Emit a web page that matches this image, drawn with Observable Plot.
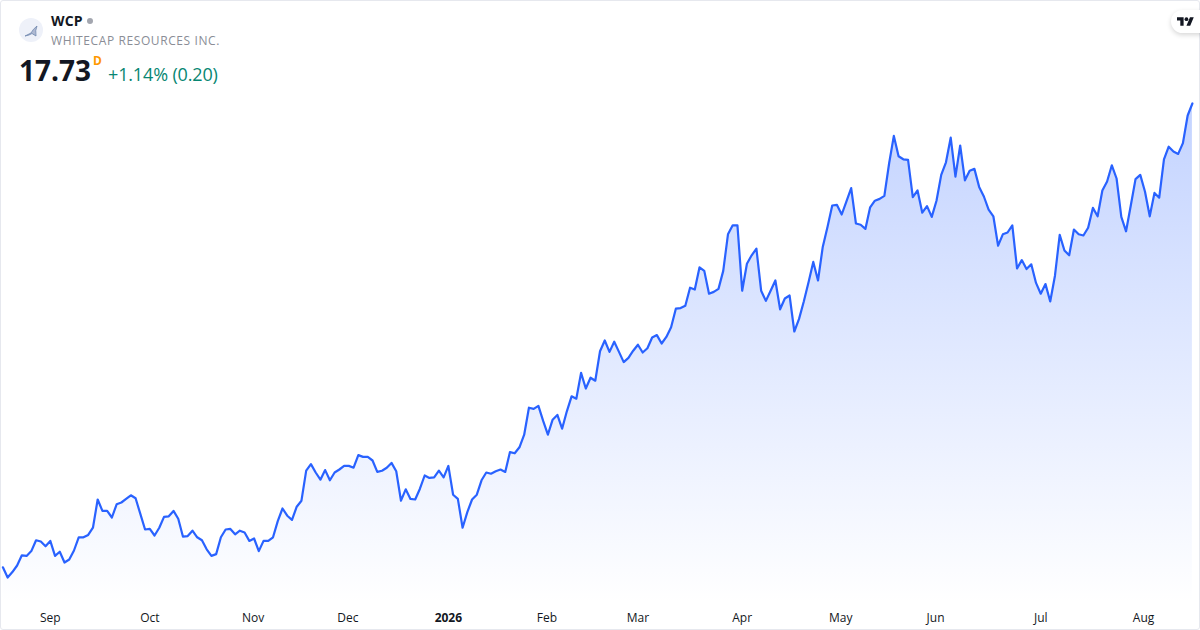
<!DOCTYPE html>
<html>
<head>
<meta charset="utf-8">
<script src="https://cdn.jsdelivr.net/npm/d3@7"></script>
<script src="https://cdn.jsdelivr.net/npm/@observablehq/plot@0.6"></script>
<style>
html,body{margin:0;padding:0;background:#fff;overflow:hidden}
#card{position:relative;width:1200px;height:630px;font-family:"Open Sans",sans-serif;color:#131722;overflow:hidden}
#frame{position:absolute;left:0;top:0;width:1198px;height:628px;border:1px solid #e6e8ee;border-radius:3px;pointer-events:none}
#card svg.chart{position:absolute;left:0;top:0}
.t{position:absolute;white-space:nowrap;line-height:1}
#pill{position:absolute;left:1171px;top:10px;width:40px;height:23px;border-radius:12px;background:#fff;box-shadow:0 2px 5px rgba(0,0,0,.16)}
</style>
</head>
<body>
<div id="card"></div>
<script>
const closes = [
10.00,9.83,9.92,10.03,10.20,10.19,10.27,10.45,10.43,10.35,10.44,10.19,10.26,10.08,10.13,10.28,10.50,10.50,10.54,10.66,
11.13,10.94,10.94,10.83,11.05,11.08,11.14,11.20,11.15,10.89,10.63,10.64,10.53,10.66,10.84,10.85,10.94,10.81,10.51,10.52,
10.61,10.50,10.45,10.30,10.19,10.22,10.50,10.63,10.64,10.55,10.61,10.58,10.44,10.48,10.27,10.44,10.44,10.50,10.77,10.98,
10.86,10.79,11.01,11.11,11.61,11.72,11.58,11.46,11.62,11.45,11.58,11.63,11.69,11.69,11.66,11.87,11.84,11.84,11.78,11.59,
11.61,11.66,11.74,11.60,11.11,11.30,11.14,11.13,11.31,11.53,11.49,11.50,11.61,11.50,11.69,11.21,11.14,10.66,10.92,11.13,
11.21,11.45,11.58,11.56,11.60,11.63,11.59,11.92,11.90,12.00,12.21,12.66,12.64,12.69,12.44,12.21,12.46,12.54,12.31,12.60,
12.85,12.81,13.24,12.98,13.16,13.11,13.60,13.78,13.59,13.76,13.59,13.42,13.49,13.61,13.71,13.58,13.65,13.83,13.87,13.73,
13.84,14.00,14.31,14.32,14.36,14.66,14.63,15.00,14.94,14.56,14.59,14.64,14.94,15.55,15.70,15.70,14.61,15.06,15.20,15.31,
14.61,14.44,14.61,14.78,14.30,14.48,14.53,13.93,14.14,14.43,14.75,15.09,14.78,15.34,15.67,16.03,16.04,15.88,16.10,16.32,
15.73,15.71,15.64,16.00,16.11,16.14,16.19,16.73,17.19,16.85,16.80,16.79,16.17,16.28,15.91,16.02,15.84,16.11,16.54,16.75,
17.16,16.51,17.03,16.45,16.61,16.64,16.34,16.18,15.96,15.85,15.36,15.55,15.58,15.70,14.98,15.12,14.97,15.05,14.74,14.56,
14.72,14.43,14.86,15.54,15.28,15.20,15.63,15.55,15.53,15.66,15.99,15.85,16.28,16.43,16.70,16.48,15.84,15.60,16.03,16.47,
16.54,16.26,15.85,16.24,16.16,16.80,17.01,16.93,16.89,17.07,17.53,17.73
];
const sessions = closes.map((_, i) => i);
const monthTicks = [10,31,52.8,72.8,94,114.8,134,156,176.8,196.8,219,240.7];
const monthLabels = ["Sep","Oct","Nov","Dec","2026","Feb","Mar","Apr","May","Jun","Jul","Aug"];
const yearTick = 94;
const table = sessions.map((s, i) => ({session: s, close: closes[i]}));
const labelOf = t => monthLabels[monthTicks.indexOf(t)];

const gradient = () => {
  const defs = d3.create("svg:defs");
  const g = defs.append("linearGradient").attr("id","priceFill").attr("x1",0).attr("x2",0).attr("y1",0).attr("y2",1);
  g.append("stop").attr("offset","0%").attr("stop-color","#2962ff").attr("stop-opacity",0.28);
  g.append("stop").attr("offset","100%").attr("stop-color","#2962ff").attr("stop-opacity",0);
  return defs.node();
};

const chart = Plot.plot({
  width: 1200, height: 630,
  marginLeft: 2.4, marginRight: 8.1, marginTop: 103, marginBottom: 26,
  style: {background: "transparent", overflow: "visible"},
  x: {type: "linear", domain: [0, 251], axis: null},
  y: {type: "linear", domain: [9.38, 17.73], axis: null},
  marks: [
    gradient,
    Plot.areaY(table, {x: "session", y1: 9.38, y2: "close", fill: "url(#priceFill)"}),
    Plot.lineY(table, {x: "session", y: "close", stroke: "#2962ff", strokeWidth: 2.2, strokeLinejoin: "round"}),
    Plot.axisX({label: null, ticks: monthTicks.filter(t => t !== yearTick), tickFormat: labelOf, tickSize: 0, tickPadding: 8.5, fontSize: 12, fontFamily: "Open Sans", color: "#131722", anchor: "bottom"}),
    Plot.axisX({label: null, ticks: [yearTick], tickFormat: labelOf, tickSize: 0, tickPadding: 8.5, fontSize: 12, fontWeight: 700, fontFamily: "Open Sans", color: "#131722", anchor: "bottom"})
  ]
});
chart.classList.add("chart");
const card = document.getElementById("card");
card.appendChild(chart);

card.insertAdjacentHTML("beforeend", `
<div id="frame"></div>
<svg style="position:absolute;left:19px;top:18px" width="24" height="24" viewBox="0 0 24 24">
  <circle cx="12" cy="12" r="12" fill="#eef1f9"/>
  <path d="M6 18 L12 15 Q14 11 18 8 Q16 12 17 18 L13 15.5 L10 17 Z" fill="#aeb9d2" stroke="#6f86ad" stroke-width=".8"/>
</svg>
<div class="t" style="left:51px;top:14px;font-size:14px;font-weight:700;letter-spacing:.2px">WCP</div>
<svg style="position:absolute;left:86px;top:17px" width="8" height="8"><circle cx="4" cy="4" r="3" fill="#a3a6af"/></svg>
<div class="t" style="left:51px;top:35px;font-size:12px;color:#8a8d96;letter-spacing:.6px">WHITECAP RESOURCES INC.</div>
<div class="t" style="left:19px;top:56px;font-size:28px;font-weight:700">17.73</div>
<div class="t" style="left:93px;top:55px;font-size:12px;font-weight:700;color:#ff9800">D</div>
<div class="t" style="left:108px;top:65px;font-size:18px;letter-spacing:-.15px;color:#078672">+1.14% (0.20)</div>
<div id="pill"><svg style="position:absolute;left:6px;top:6px" width="17" height="11" viewBox="0 2 36 22"><path fill="#131722" d="M14 22H7V11H0V4h14v18zM28 22h-8l7.5-18h8L28 22z"/><circle cx="20" cy="8" r="4" fill="#131722"/></svg></div>
`);
</script>
</body>
</html>
